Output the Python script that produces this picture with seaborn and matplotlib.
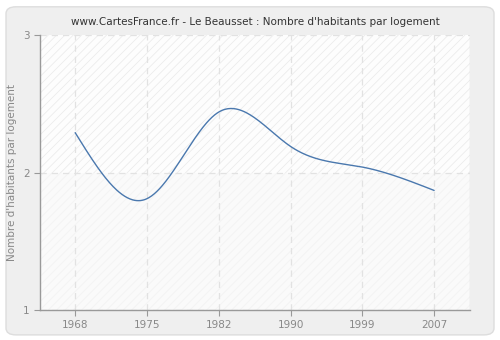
import numpy as np
import pandas as pd
import matplotlib
matplotlib.use("Agg")
import matplotlib.pyplot as plt
from matplotlib.patches import FancyBboxPatch
import seaborn as sns

years = ["1968", "1975", "1982", "1990", "1999", "2007"]
values = [2.29, 1.81, 2.44, 2.19, 2.04, 1.87]
y_ticks = [1, 2, 3]


def natural_spline(x, y, n=400):
    x = np.asarray(x, float)
    y = np.asarray(y, float)
    k = len(x)
    h = np.diff(x)
    A = np.zeros((k, k))
    b = np.zeros(k)
    A[0, 0] = A[-1, -1] = 1
    for i in range(1, k - 1):
        A[i, i - 1] = h[i - 1]
        A[i, i] = 2 * (h[i - 1] + h[i])
        A[i, i + 1] = h[i]
        b[i] = 3 * ((y[i + 1] - y[i]) / h[i] - (y[i] - y[i - 1]) / h[i - 1])
    c = np.linalg.solve(A, b)
    xs = np.linspace(x[0], x[-1], n)
    idx = np.clip(np.searchsorted(x, xs) - 1, 0, k - 2)
    dx = xs - x[idx]
    bb = (y[1:] - y[:-1]) / h - h * (2 * c[:-1] + c[1:]) / 3
    d = (c[1:] - c[:-1]) / (3 * h)
    ys = y[idx] + bb[idx] * dx + c[idx] * dx ** 2 + d[idx] * dx ** 3
    return xs, ys


pos = np.arange(len(years))
xs, ys = natural_spline(pos, values)
curve = pd.DataFrame({"x": xs, "y": ys})

sns.set_theme(style="white")
plt.rcParams["font.family"] = ["DejaVu Sans"]
plt.rcParams["hatch.linewidth"] = 0.6

fig = plt.figure(figsize=(5, 3.4), dpi=100)
fig.patch.set_facecolor("white")
frame = FancyBboxPatch((0.012, 0.015), 0.976, 0.965,
                       boxstyle="round,pad=0,rounding_size=0.02",
                       transform=fig.transFigure, facecolor="#efefef",
                       edgecolor="#dddddd", linewidth=1.0, zorder=-5)
fig.add_artist(frame)

ax = fig.add_axes([0.08, 0.088, 0.86, 0.809])
ax.set_zorder(5)
ax.set_facecolor("white")

# hatched background, stronger above the middle gridline
ax.axhspan(2, 3, facecolor="#fdfdfd", edgecolor="#ececec", hatch="////",
           linewidth=0, zorder=0)
ax.axhspan(1, 2, facecolor="#fafafa", edgecolor="#f3f3f3", hatch="////",
           linewidth=0, zorder=0)

sns.lineplot(data=curve, x="x", y="y", ax=ax, color="#4a78ae",
             linewidth=1.0, zorder=3)

ax.set_xlim(-0.49, 5.5)
ax.set_ylim(1, 3)
ax.set_xticks(pos)
ax.set_xticklabels(years)
ax.set_yticks(y_ticks)
ax.set_yticklabels([str(t) for t in y_ticks])

ax.grid(True, color="#e2e2e2", linestyle=(0, (5, 4)), linewidth=0.9, zorder=1)
ax.set_axisbelow(True)

for side in ["top", "right"]:
    ax.spines[side].set_visible(False)
ax.spines["left"].set_color("#999999")
ax.spines["bottom"].set_color("#999999")
ax.spines["left"].set_linewidth(1.0)
ax.spines["bottom"].set_linewidth(1.0)
ax.axvline(5.5, color="#dddddd", linewidth=1.0, zorder=2)

ax.tick_params(axis="both", colors="#999999", labelcolor="#888888",
               labelsize=7.5, length=4, width=0.8, direction="out",
               bottom=True, left=True)

ax.set_xlabel("")
ax.set_ylabel("Nombre d'habitants par logement", color="#888888", fontsize=7.5)
ax.set_title("www.CartesFrance.fr - Le Beausset : Nombre d'habitants par logement",
             fontsize=7.5, color="#333333", pad=7)

fig.savefig("out.png", dpi=100, facecolor=fig.get_facecolor())
